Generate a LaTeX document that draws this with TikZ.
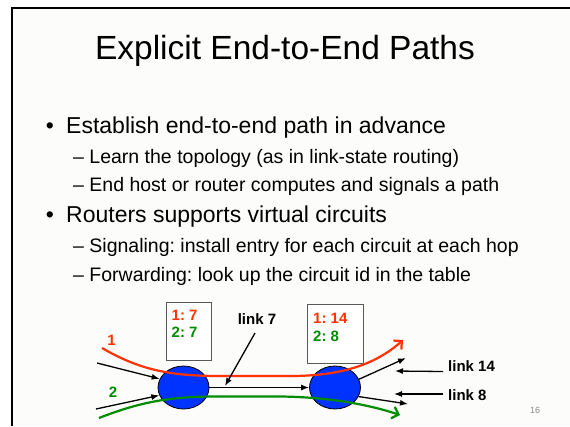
\documentclass[tikz,border=0pt]{standalone}
\usepackage{fontspec}
\setmainfont{Liberation Sans}
\usetikzlibrary{arrows.meta,shapes.geometric}
\definecolor{slidebg}{HTML}{FCFCFA}
\definecolor{pathred}{HTML}{FF3300}
\definecolor{pathgreen}{HTML}{008C00}
\definecolor{routerblue}{HTML}{0033FF}
\frenchspacing
\begin{document}
\begin{tikzpicture}[x=1pt,y=-1pt,
  bullettext/.style={anchor=base west,inner sep=0pt,font=\fontsize{23}{27}\selectfont},
  bulletdot/.style={anchor=base,inner sep=0pt,font=\fontsize{23}{27}\selectfont},
  subtext/.style={anchor=base west,inner sep=0pt,font=\fontsize{19.5}{23}\selectfont},
  router/.style={ellipse,draw=black,line width=0.8pt,fill=routerblue,minimum width=51pt,minimum height=43pt,inner sep=0pt},
  vcbox/.style={draw=black!65,line width=0.8pt,fill=white,inner sep=0pt},
  lbl/.style={font=\bfseries\fontsize{15}{18}\selectfont,inner sep=0pt},
  linkarrow/.style={line width=1.3pt,-{Latex[length=8pt,width=6pt]}},
  vcpath/.style={line width=2.2pt,-{Straight Barb[length=6pt,width=12pt]}},
]
\useasboundingbox (0,0) rectangle (570,426);
\fill[white] (0,0) rectangle (570,426);
\fill[slidebg] (11.5,8) rectangle (570,426);
\draw[line width=2pt] (11.5,426) -- (11.5,8) -- (570,8);

\node[font=\fontsize{33.5}{40}\selectfont,anchor=base,inner sep=0pt] (title) at (285,59) {Explicit End-to-End Paths};

\node[bulletdot] (d1) at (50,133.3) {•};
\node[bullettext] (t1) at (66,133.3) {Establish end-to-end path in advance};
\node[subtext] (t2) at (73,163.3) {– Learn the topology (as in link-state routing)};
\node[subtext] (t3) at (73,191) {– End host or router computes and signals a path};
\node[bulletdot] (d4) at (50,222.5) {•};
\node[bullettext] (t4) at (66,222.5) {Routers supports virtual circuits};
\node[subtext] (t5) at (73,252.5) {– Signaling: install entry for each circuit at each hop};
\node[subtext] (t6) at (73,281) {– Forwarding: look up the circuit id in the table};

% tables
\node[vcbox,minimum width=45pt,minimum height=58pt] (box1) at (188.5,331) {};
\node[vcbox,minimum width=56pt,minimum height=59pt] (box2) at (335,333.5) {};
\node[lbl,text=pathred,anchor=base west] (e11) at (171.5,320) {1: 7};
\node[lbl,text=pathgreen,anchor=base west] (e12) at (171.5,337) {2: 7};
\node[lbl,text=pathred,anchor=base west] (e21) at (313,323.5) {1: 14};
\node[lbl,text=pathgreen,anchor=base west] (e22) at (313,341) {2: 8};

% routers
\node[router] (L) at (183.5,387.5) {};
\node[router] (R) at (335,387.5) {};

% links
\coordinate (i1) at (97,363);
\coordinate (i2) at (96,409);
\coordinate (o14) at (406,358);
\coordinate (o8) at (408,404);
\draw[linkarrow] (i1) -- (L.160);
\draw[linkarrow] (i2) -- (L.198);
\draw[linkarrow] (L.east) -- (R.west);
\draw[linkarrow] (R.19) -- (o14);
\draw[linkarrow] (R.339) -- (o8);

% virtual circuit paths
\node[lbl,text=pathred] (n1) at (111.5,340) {1};
\node[lbl,text=pathgreen] (n2) at (113,392) {2};
\coordinate (r0) at (102,348);
\coordinate (r1) at (403,340);
\coordinate (g0) at (99,418);
\coordinate (g1) at (400,415);
\draw[vcpath,pathred] (r0) .. controls (140,370) and (170,376) .. (220,376) -- (290,376) .. controls (340,376) and (375,365) .. (r1);
\draw[vcpath,pathgreen] (g0) .. controls (140,402) and (170,396.5) .. (215,396.5) -- (280,396.5) .. controls (330,397) and (370,405) .. (g1);

% link labels
\node[lbl,anchor=base] (l7) at (257,324) {link 7};
\coordinate (p7) at (225,386);
\draw[linkarrow] ([shift={(-2pt,-9pt)}]l7.base) -- (p7);
\node[lbl,anchor=base west] (l14) at (448,371.5) {link 14};
\coordinate (p14) at (395,371);
\draw[linkarrow] ([xshift=-5pt]l14.base west) -- (p14);
\node[lbl,anchor=base west] (l8) at (448,400) {link 8};
\coordinate (p8) at (394,394);
\draw[linkarrow] ([shift={(-5pt,6pt)}]l8.base west) -- (p8);

\node[text=black!45,font=\fontsize{9}{10}\selectfont,inner sep=0pt] (pg) at (535,410) {16};
\end{tikzpicture}
\end{document}
